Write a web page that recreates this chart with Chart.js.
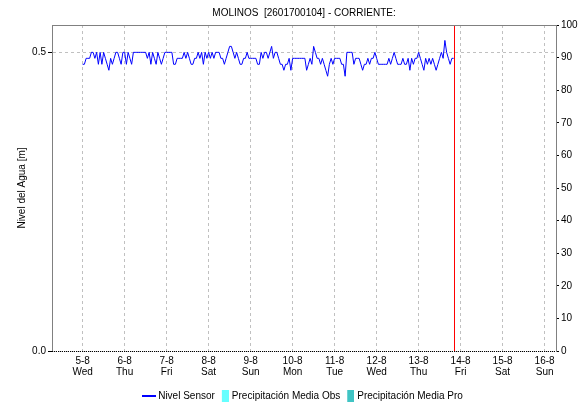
<!DOCTYPE html>
<html>
<head>
<meta charset="utf-8">
<script src="https://cdn.jsdelivr.net/npm/chart.js@4.4.0/dist/chart.umd.min.js"></script>
<style>
  html, body { margin: 0; padding: 0; background: #fff; }
</style>
</head>
<body>
<canvas id="chart" width="578" height="404"></canvas>
<script>
const chartTitle = 'MOLINOS  [2601700104] - CORRIENTE:';
const axisTitle = 'Nivel del Agua [m]';

// one tick per day, first one is 5-8 at 00:00 (hour 0)
const dayLabels = ['5-8', '6-8', '7-8', '8-8', '9-8', '10-8', '11-8', '12-8', '13-8', '14-8', '15-8', '16-8'];
const weekDays = ['Wed', 'Thu', 'Fri', 'Sat', 'Sun', 'Mon', 'Tue', 'Wed', 'Thu', 'Fri', 'Sat', 'Sun'];
const leftTicks = [0, 0.5];

// hourly sensor readings [m], starting 5-8 00:00
const nivelSensor = [
  0.48, 0.48, 0.49, 0.49, 0.49, 0.50, 0.50, 0.49, 0.50, 0.48, 0.50, 0.48, 0.50, 0.49, 0.48, 0.47, 0.49, 0.48, 0.49, 0.50, 0.50, 0.49, 0.48, 0.50,
  0.50, 0.48, 0.50, 0.49, 0.48, 0.50, 0.50, 0.50, 0.50, 0.50, 0.50, 0.50, 0.50, 0.49, 0.50, 0.48, 0.50, 0.49, 0.48, 0.50, 0.49, 0.48, 0.49, 0.50,
  0.50, 0.50, 0.50, 0.50, 0.48, 0.48, 0.49, 0.49, 0.49, 0.49, 0.50, 0.49, 0.50, 0.49, 0.48, 0.48, 0.49, 0.49, 0.50, 0.49, 0.50, 0.48, 0.50, 0.49,
  0.50, 0.49, 0.50, 0.49, 0.50, 0.50, 0.50, 0.49, 0.49, 0.48, 0.49, 0.50, 0.51, 0.51, 0.50, 0.49, 0.50, 0.49, 0.48, 0.48, 0.49, 0.49, 0.50, 0.49,
  0.49, 0.49, 0.49, 0.49, 0.48, 0.48, 0.50, 0.49, 0.50, 0.50, 0.49, 0.50, 0.51, 0.49, 0.50, 0.50, 0.49, 0.48, 0.48, 0.47, 0.48, 0.48, 0.49, 0.47,
  0.49, 0.49, 0.49, 0.49, 0.49, 0.49, 0.49, 0.49, 0.47, 0.48, 0.49, 0.48, 0.51, 0.50, 0.49, 0.49, 0.48, 0.49, 0.48, 0.47, 0.46, 0.48, 0.49, 0.48,
  0.49, 0.49, 0.49, 0.49, 0.48, 0.48, 0.46, 0.50, 0.50, 0.50, 0.50, 0.48, 0.49, 0.49, 0.49, 0.48, 0.47, 0.48, 0.48, 0.49, 0.48, 0.49, 0.49, 0.50,
  0.49, 0.48, 0.48, 0.48, 0.48, 0.48, 0.48, 0.49, 0.48, 0.49, 0.50, 0.49, 0.48, 0.48, 0.48, 0.49, 0.48, 0.48, 0.49, 0.47, 0.49, 0.48, 0.49, 0.49,
  0.50, 0.49, 0.48, 0.47, 0.49, 0.48, 0.49, 0.48, 0.49, 0.48, 0.47, 0.48, 0.49, 0.50, 0.49, 0.52, 0.50, 0.49, 0.48, 0.49, 0.49
];
// precipitation series are empty in this view
const precipObs = [];
const precipPro = [];

const nowHour = 212.2;      // current time marker (13-8 ~20:10)
const rangeStart = -17.5;   // hours relative to 5-8 00:00
const rangeEnd = 270.5;

Chart.defaults.font.family = "'Liberation Sans', Arial, sans-serif";
Chart.defaults.font.size = 10;
Chart.defaults.color = '#000';

// little legend icons: a line and two narrow boxes
function makeIcon(w, h, color, x0) {
  const c = document.createElement('canvas');
  c.width = w;
  c.height = h;
  const g = c.getContext('2d');
  g.fillStyle = color;
  g.fillRect(x0, 0, w - x0, h);
  return c;
}
const legendIcons = [
  makeIcon(14, 2, '#0000ff', 0),
  makeIcon(12, 12, '#66ffff', 5),
  makeIcon(12, 12, '#40c4c4', 5),
];

const framePlugin = {
  id: 'frame',
  afterDraw(chart) {
    const { ctx, chartArea: a, scales: { x } } = chart;
    ctx.save();
    ctx.lineWidth = 1;
    ctx.strokeStyle = '#808080';
    ctx.beginPath();
    ctx.moveTo(a.left, a.top + 0.5);
    ctx.lineTo(a.right + 1, a.top + 0.5);
    ctx.stroke();

    ctx.strokeStyle = '#000000';
    ctx.setLineDash([1, 1]);
    ctx.beginPath();
    ctx.moveTo(a.left, a.bottom + 0.5);
    ctx.lineTo(a.right, a.bottom + 0.5);
    ctx.stroke();
    ctx.setLineDash([]);

    // current time marker
    const px = Math.round(x.getPixelForValue(nowHour));
    ctx.fillStyle = '#ff0000';
    ctx.fillRect(px, a.top + 1, 1, a.bottom - a.top - 1);
    ctx.restore();
  }
};

const cfg = {
  type: 'line',
  data: {
    datasets: [
      {
        label: 'Nivel Sensor',
        data: nivelSensor.map((v, i) => ({ x: i, y: v })),
        borderColor: '#0000ff',
        borderWidth: 1,
        pointRadius: 0,
        tension: 0,
        yAxisID: 'y',
      },
      {
        type: 'bar',
        label: 'Precipitación Media Obs',
        data: precipObs,
        backgroundColor: '#66ffff',
        yAxisID: 'y2',
      },
      {
        type: 'bar',
        label: 'Precipitación Media Pro',
        data: precipPro,
        backgroundColor: '#40c4c4',
        yAxisID: 'y2',
      },
    ],
  },
  options: {
    responsive: false,
    animation: false,
    devicePixelRatio: 1,
    layout: { padding: 0 },
    scales: {
      x: {
        type: 'linear',
        min: rangeStart,
        max: rangeEnd,
        offset: false,
        afterBuildTicks: s => { s.ticks = dayLabels.map((d, i) => ({ value: i * 24 })); },
        afterFit: s => { s.height = 36; },
        ticks: {
          autoSkip: false,
          maxRotation: 0,
          padding: 5,
          font: { size: 10, lineHeight: 1.1 },
          callback: v => [dayLabels[v / 24], weekDays[v / 24]],
        },
        grid: { color: '#c0c0c0', drawTicks: false, offset: false },
        border: { display: false, dash: [3, 3] },
      },
      y: {
        position: 'left',
        min: 0,
        max: 0.5458,
        afterBuildTicks: s => { s.ticks = leftTicks.map(v => ({ value: v })); },
        afterFit: s => { s.width = 52; },
        ticks: { padding: 2, callback: v => v.toFixed(1) },
        grid: { color: '#c0c0c0', tickColor: '#000', tickLength: 4, tickBorderDash: [] },
        border: { color: '#808080', dash: [3, 3] },
        title: { display: true, text: axisTitle, font: { size: 10 }, padding: { top: 16, bottom: 0 } },
      },
      y2: {
        position: 'right',
        min: 0,
        max: 100,
        afterFit: s => { s.width = 22; },
        ticks: { stepSize: 10, padding: 2 },
        grid: { drawOnChartArea: false, tickColor: '#000', tickLength: 3 },
        border: { color: '#808080' },
      },
    },
    plugins: {
      title: {
        display: true,
        text: chartTitle,
        fullSize: false,
        font: { size: 10, weight: 'normal' },
        padding: { top: 7, bottom: 6 },
      },
      legend: {
        position: 'bottom',
        fullSize: false,
        maxHeight: 17,
        labels: {
          usePointStyle: true,
          boxWidth: 8,
          boxHeight: 10,
          padding: 4,
          font: { size: 10 },
          generateLabels: chart => chart.data.datasets.map((ds, i) => ({
            text: ds.label,
            pointStyle: legendIcons[i],
            fillStyle: ds.backgroundColor || ds.borderColor,
            strokeStyle: ds.borderColor || ds.backgroundColor,
            lineWidth: 0,
            hidden: false,
            datasetIndex: i,
          })),
        },
      },
      tooltip: { enabled: false },
    },
  },
  plugins: [framePlugin],
};

new Chart(document.getElementById('chart').getContext('2d'), cfg);
</script>
</body>
</html>
